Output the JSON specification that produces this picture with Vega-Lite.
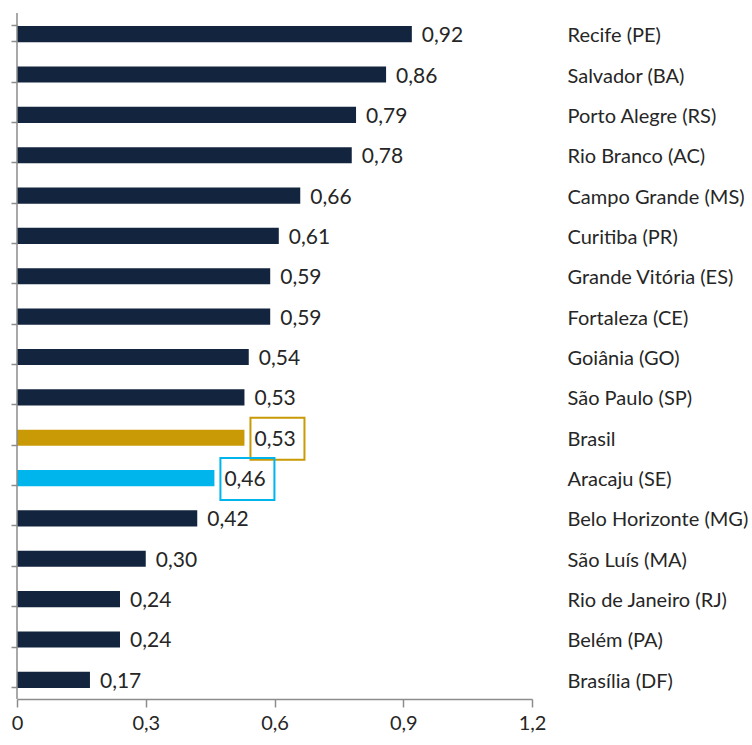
{
  "$schema": "https://vega.github.io/schema/vega-lite/v6.json",
  "width": 515,
  "height": 686,
  "autosize": "none",
  "padding": {"left": 17, "top": 13, "right": 220, "bottom": 46},
  "background": "white",
  "config": {
    "locale": {"number": {"decimal": ",", "thousands": ".", "grouping": [3], "currency": ["R$", ""]}},
    "view": {"stroke": null},
    "font": "Lato"
  },
  "data": {
    "values": [
      {"local": "Recife (PE)", "valor": 0.92, "destaque": "outro"},
      {"local": "Salvador (BA)", "valor": 0.86, "destaque": "outro"},
      {"local": "Porto Alegre (RS)", "valor": 0.79, "destaque": "outro"},
      {"local": "Rio Branco (AC)", "valor": 0.78, "destaque": "outro"},
      {"local": "Campo Grande (MS)", "valor": 0.66, "destaque": "outro"},
      {"local": "Curitiba (PR)", "valor": 0.61, "destaque": "outro"},
      {"local": "Grande Vitória (ES)", "valor": 0.59, "destaque": "outro"},
      {"local": "Fortaleza (CE)", "valor": 0.59, "destaque": "outro"},
      {"local": "Goiânia (GO)", "valor": 0.54, "destaque": "outro"},
      {"local": "São Paulo (SP)", "valor": 0.53, "destaque": "outro"},
      {"local": "Brasil", "valor": 0.53, "destaque": "Brasil"},
      {"local": "Aracaju (SE)", "valor": 0.46, "destaque": "Aracaju"},
      {"local": "Belo Horizonte (MG)", "valor": 0.42, "destaque": "outro"},
      {"local": "São Luís (MA)", "valor": 0.30, "destaque": "outro"},
      {"local": "Rio de Janeiro (RJ)", "valor": 0.24, "destaque": "outro"},
      {"local": "Belém (PA)", "valor": 0.24, "destaque": "outro"},
      {"local": "Brasília (DF)", "valor": 0.17, "destaque": "outro"}
    ]
  },
  "resolve": {"axis": {"y": "independent"}},
  "layer": [
    {
      "mark": {"type": "bar", "yOffset": 1, "x2Offset": 1},
      "encoding": {
        "x": {
          "field": "valor", "type": "quantitative",
          "scale": {"domain": [0, 1.2], "nice": false},
          "axis": {
            "values": [0, 0.3, 0.6, 0.9, 1.2], "format": ".1~f", "title": null, "grid": false, "zindex": 1,
            "domainColor": "#8c8c8c", "domainWidth": 1.5, "tickColor": "#8c8c8c", "tickWidth": 1.5, "tickSize": 8,
            "labelFontSize": 20, "labelColor": "#262626", "labelPadding": 6, "labelFlush": false
          }
        },
        "y": {
          "field": "local", "type": "nominal", "sort": null,
          "scale": {"paddingInner": 0.6, "paddingOuter": 0.3},
          "axis": {
            "orient": "left", "title": null, "labels": false, "tickBand": "extent", "zindex": 1, "domain": false,
            "tickColor": "#8c8c8c", "tickWidth": 1.5, "tickSize": 6
          }
        },
        "color": {
          "field": "destaque", "type": "nominal", "legend": null,
          "scale": {"domain": ["outro", "Brasil", "Aracaju"], "range": ["#13243f", "#c99a06", "#00b4ec"]}
        }
      }
    },
    {
      "mark": {"type": "text", "align": "left", "baseline": "middle", "dx": 10, "dy": 3, "fontSize": 21, "color": "#262626"},
      "encoding": {
        "x": {"field": "valor", "type": "quantitative"},
        "text": {"field": "valor", "type": "quantitative", "format": ".2f"},
        "y": {
          "field": "local", "type": "nominal", "sort": null,
          "axis": {
            "orient": "right", "title": null, "domain": false, "ticks": false, "labelLimit": 0, "labelOffset": 3,
            "labelAlign": "left", "labelPadding": 35, "labelFontSize": 20, "labelColor": "#262626"
          }
        }
      }
    },
    {
      "transform": [{"filter": "datum.destaque != 'outro'"}],
      "mark": {"type": "point", "shape": "M-1.286,-1H1.286V1H-1.286Z", "size": 1764, "filled": false, "strokeWidth": 2, "xOffset": 33, "yOffset": 2, "opacity": 1},
      "encoding": {
        "x": {"field": "valor", "type": "quantitative"},
        "y": {"field": "local", "type": "nominal", "sort": null, "axis": null},
        "stroke": {
          "field": "destaque", "type": "nominal", "legend": null,
          "scale": {"domain": ["Brasil", "Aracaju"], "range": ["#c99a06", "#00b4ec"]}
        }
      }
    },
    {
      "data": {"values": [{"eixo": 0}]},
      "mark": {"type": "rule", "color": "#8c8c8c", "strokeWidth": 1.5},
      "encoding": {
        "x": {"field": "eixo", "type": "quantitative"}
      }
    }
  ]
}
